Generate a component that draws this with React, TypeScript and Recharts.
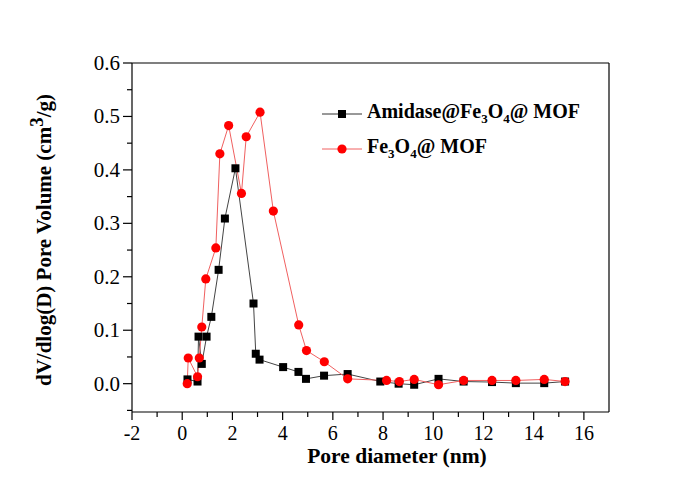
import React from 'react';
import { LineChart, Line, XAxis, YAxis, ReferenceLine, Legend } from 'recharts';

// pore size distribution
const amidaseX = [0.21, 0.61, 0.65, 0.78, 0.97, 1.16, 1.45, 1.7, 2.12, 2.84, 2.93, 3.08, 4.02, 4.63, 4.93, 5.65, 6.59, 7.89, 8.62, 9.24, 10.21, 11.21, 12.34, 13.29, 14.42, 15.25];
const amidaseY = [0.008, 0.004, 0.088, 0.037, 0.088, 0.125, 0.213, 0.309, 0.403, 0.15, 0.056, 0.045, 0.031, 0.022, 0.009, 0.015, 0.018, 0.004, 0.0, -0.002, 0.009, 0.004, 0.003, 0.001, 0.001, 0.004];

const fe3o4X = [0.2, 0.24, 0.61, 0.68, 0.78, 0.94, 1.34, 1.5, 1.85, 2.36, 2.55, 3.1, 3.63, 4.64, 4.95, 5.66, 6.59, 8.14, 8.65, 9.24, 10.21, 11.21, 12.34, 13.29, 14.42, 15.25];
const fe3o4Y = [0.0, 0.048, 0.013, 0.048, 0.106, 0.196, 0.254, 0.43, 0.483, 0.356, 0.462, 0.508, 0.323, 0.11, 0.062, 0.041, 0.009, 0.006, 0.004, 0.008, -0.002, 0.006, 0.006, 0.006, 0.008, 0.004];

const xTicks = [-2, -1, 0, 1, 2, 3, 4, 5, 6, 7, 8, 9, 10, 11, 12, 13, 14, 15, 16];
const xMajor = [-2, 0, 2, 4, 6, 8, 10, 12, 14, 16];
const yTicks = [-0.05, 0, 0.05, 0.1, 0.15, 0.2, 0.25, 0.3, 0.35, 0.4, 0.45, 0.5, 0.55, 0.6];
const yMajor = [0, 0.1, 0.2, 0.3, 0.4, 0.5, 0.6];

const amidase = amidaseX.map((x, i) => ({ x, y: amidaseY[i] }));
const fe3o4 = fe3o4X.map((x, i) => ({ x, y: fe3o4Y[i] }));

const FONT = '"Liberation Serif", "Times New Roman", serif';

const XTick = ({ x, y, payload }: any) => {
  const major = xMajor.includes(payload.value);
  return (
    <g>
      <line x1={x} y1={y} x2={x} y2={y + (major ? 8 : 5)} stroke="#000" strokeWidth={1.2} />
      {major && (
        <text x={x} y={y + 28} textAnchor="middle" fontFamily={FONT} fontSize={20} fill="#000">
          {payload.value}
        </text>
      )}
    </g>
  );
};

const YTick = ({ x, y, payload }: any) => {
  const major = yMajor.some((m) => Math.abs(m - payload.value) < 1e-6);
  return (
    <g>
      <line x1={x} y1={y} x2={x - (major ? 9 : 5)} y2={y} stroke="#000" strokeWidth={1.2} />
      {major && (
        <text x={x - 12} y={y + 7} textAnchor="end" fontFamily={FONT} fontSize={21} fill="#000">
          {payload.value.toFixed(1)}
        </text>
      )}
    </g>
  );
};

const Square = ({ cx, cy }: any) => (
  <rect x={cx - 4} y={cy - 4} width={8} height={8} fill="#000" />
);

const Dot = ({ cx, cy }: any) => (
  <circle cx={cx} cy={cy} r={4.6} fill="#ff0000" />
);

const LegendBox = () => {
  const rows = [
    { color: '#333', marker: 'square', head: 'Amidase@Fe' },
    { color: '#f06060', marker: 'circle', head: 'Fe' },
  ];
  return (
    <div style={{ fontFamily: FONT, fontWeight: 'bold', fontSize: 20, color: '#000' }}>
      {rows.map((r) => (
        <div key={r.head} style={{ display: 'flex', alignItems: 'center', height: 35 }}>
          <svg width={40} height={12} style={{ marginRight: 5 }}>
            <line x1={0} y1={6} x2={40} y2={6} stroke={r.color} strokeWidth={1} />
            {r.marker === 'square' ? (
              <rect x={16} y={2} width={8} height={8} fill="#000" />
            ) : (
              <circle cx={20} cy={6} r={4.6} fill="#ff0000" />
            )}
          </svg>
          <span>
            {r.head}
            <sub style={{ fontSize: 13 }}>3</sub>O<sub style={{ fontSize: 13 }}>4</sub>@ MOF
          </span>
        </div>
      ))}
    </div>
  );
};

export default function App() {
  return (
    <div style={{ position: 'absolute', left: 0, top: 0, width: 692, height: 484, background: '#fff' }}>
      <LineChart width={692} height={484} margin={{ top: 63, right: 83, bottom: 0, left: 0 }}>
        <XAxis
          dataKey="x"
          type="number"
          domain={[-2, 17]}
          ticks={xTicks}
          interval={0}
          tickSize={0}
          tickMargin={0}
          tickLine={false}
          tick={<XTick />}
          height={72}
          axisLine={{ stroke: '#000', strokeWidth: 1.2 }}
          allowDataOverflow
          label={{
            content: () => (
              <text x={397} y={463} textAnchor="middle" fontFamily={FONT} fontWeight="bold" fontSize={21.5} fill="#000">
                Pore diameter (nm)
              </text>
            ),
          }}
        />
        <YAxis
          type="number"
          domain={[-0.053, 0.6]}
          ticks={yTicks}
          interval={0}
          tickSize={0}
          tickMargin={0}
          tickLine={false}
          tick={<YTick />}
          width={132}
          axisLine={{ stroke: '#000', strokeWidth: 1.2 }}
          allowDataOverflow
          label={{
            content: () => (
              <text
                x={44}
                y={240}
                transform="rotate(-90 44 240)"
                textAnchor="middle"
                dominantBaseline="central"
                fontFamily={FONT}
                fontWeight="bold"
                fontSize={21}
                fill="#000"
              >
                dV/dlog(D) Pore Volume (cm<tspan dy={-8} fontSize={19}>3</tspan>
                <tspan dy={8}>/g)</tspan>
              </text>
            ),
          }}
        />
        <ReferenceLine y={0.6} stroke="#000" strokeWidth={1.2} />
        <ReferenceLine x={17} stroke="#000" strokeWidth={1.2} />
        <Line
          data={amidase}
          dataKey="y"
          type="linear"
          stroke="#444"
          strokeWidth={1}
          dot={<Square />}
          activeDot={false}
          isAnimationActive={false}
        />
        <Line
          data={fe3o4}
          dataKey="y"
          type="linear"
          stroke="#f06060"
          strokeWidth={1}
          dot={<Dot />}
          activeDot={false}
          isAnimationActive={false}
        />
        <Legend
          verticalAlign="middle"
          content={<LegendBox />}
          wrapperStyle={{ left: 322, top: 96, width: 280 }}
        />
      </LineChart>
    </div>
  );
}
